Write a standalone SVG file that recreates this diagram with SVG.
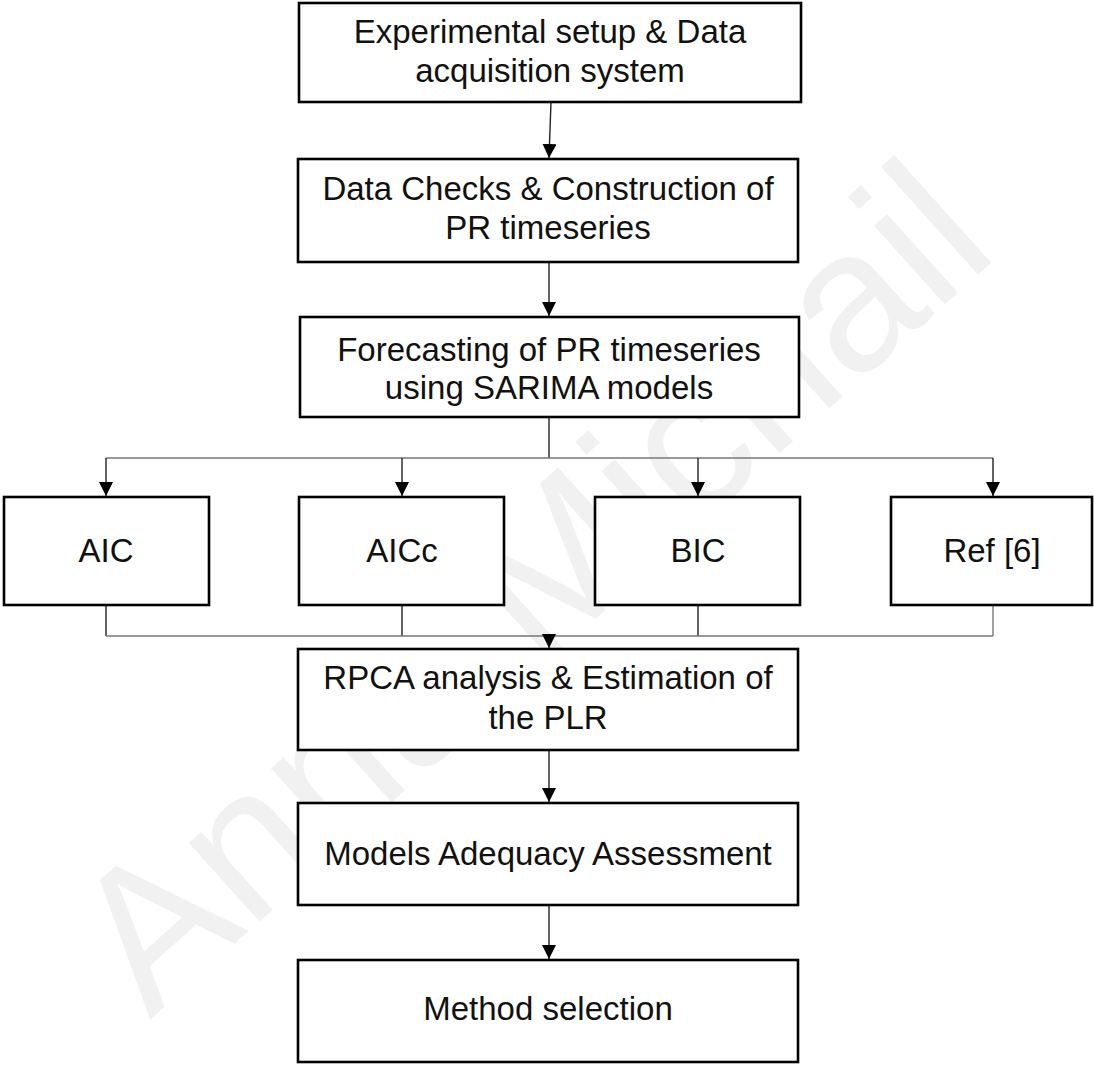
<svg xmlns="http://www.w3.org/2000/svg" width="1094" height="1065" viewBox="0 0 1094 1065">
<style>
.box{fill:#fff;stroke:#000;stroke-width:2.6}
.t{font-family:"Liberation Sans",Arial,sans-serif;font-size:33px;fill:#111;text-anchor:middle}
.c{fill:none;stroke:#222;stroke-width:1.4}
.g{fill:none;stroke:#777;stroke-width:1.4}
.wm{font-family:"Liberation Sans",Arial,sans-serif;font-size:200px;fill:#f1f1f1}
</style>
<defs>
<marker id="arr" viewBox="0 0 14 14" refX="14" refY="7" markerWidth="14" markerHeight="14" markerUnits="userSpaceOnUse" orient="auto">
<path d="M0,0 L14,7 L0,14 Z" fill="#000"/>
</marker>
</defs>
<rect width="1094" height="1065" fill="#fff"/>
<text class="wm" transform="translate(150,1020) rotate(-42)">Anna Michail</text>
<g id="connectors">
<path class="c" d="M551,102 L549,158" marker-end="url(#arr)"/>
<path class="c" d="M549,262 L549,316" marker-end="url(#arr)"/>
<path class="c" d="M549,417 L549,458"/>
<path class="g" d="M106,458 H993"/>
<path class="c" d="M106,458 V496" marker-end="url(#arr)"/>
<path class="c" d="M402,458 V496" marker-end="url(#arr)"/>
<path class="c" d="M698,458 V496" marker-end="url(#arr)"/>
<path class="c" d="M993,458 V496" marker-end="url(#arr)"/>
<path class="c" d="M106,605 V636"/>
<path class="c" d="M402,605 V636"/>
<path class="c" d="M698,605 V636"/>
<path class="g" d="M993,605 V636"/>
<path class="g" d="M106,636 H993"/>
<path class="c" d="M549,636 V648" marker-end="url(#arr)"/>
<path class="c" d="M549,750 V802" marker-end="url(#arr)"/>
<path class="c" d="M549,905 V959" marker-end="url(#arr)"/>
</g>
<g id="n1"><rect class="box" x="299" y="3" width="502" height="99"/>
<text class="t" x="550" y="43">Experimental setup &amp; Data</text>
<text class="t" x="550" y="82">acquisition system</text></g>
<g id="n2"><rect class="box" x="298" y="159" width="500" height="103"/>
<text class="t" x="548" y="200">Data Checks &amp; Construction of</text>
<text class="t" x="548" y="239">PR timeseries</text></g>
<g id="n3"><rect class="box" x="300" y="317" width="499" height="100"/>
<text class="t" x="549" y="361">Forecasting of PR timeseries</text>
<text class="t" x="549" y="399">using SARIMA models</text></g>
<g id="n4"><rect class="box" x="4" y="497" width="205" height="108"/>
<text class="t" x="106" y="562">AIC</text></g>
<g id="n5"><rect class="box" x="299" y="497" width="205" height="108"/>
<text class="t" x="402" y="562">AICc</text></g>
<g id="n6"><rect class="box" x="595" y="497" width="205" height="108"/>
<text class="t" x="698" y="562">BIC</text></g>
<g id="n7"><rect class="box" x="891" y="497" width="201" height="108"/>
<text class="t" x="992" y="562">Ref [6]</text></g>
<g id="n8"><rect class="box" x="298" y="649" width="500" height="101"/>
<text class="t" x="548" y="689">RPCA analysis &amp; Estimation of</text>
<text class="t" x="548" y="729">the PLR</text></g>
<g id="n9"><rect class="box" x="298" y="803" width="500" height="102"/>
<text class="t" x="548" y="865">Models Adequacy Assessment</text></g>
<g id="n10"><rect class="box" x="298" y="960" width="500" height="102"/>
<text class="t" x="548" y="1020">Method selection</text></g>
</svg>
